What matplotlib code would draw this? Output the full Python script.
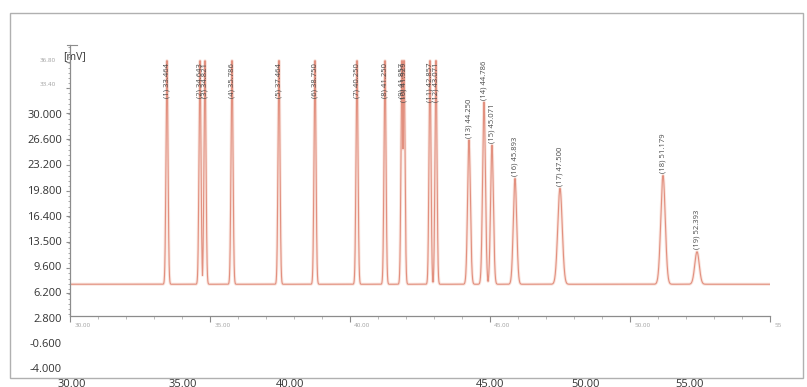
import numpy as np
import matplotlib.pyplot as plt
from matplotlib.ticker import FixedLocator, MultipleLocator, NullFormatter
from matplotlib.patches import Rectangle

plt.rcParams['font.family'] = ['Open Sans', 'DejaVu Sans']

# peak table: number, retention time [min], apex [mV], width (sigma) [min]
peak_no = [1, 2, 3, 4, 5, 6, 7, 8, 9, 10, 11, 12, 13, 14, 15, 16, 17, 18, 19]
peak_rt = [33.464, 34.643, 34.821, 35.786, 37.464, 38.750, 40.250, 41.250,
           41.857, 41.929, 42.857, 43.071, 44.250, 44.786, 45.071, 45.893,
           47.500, 51.179, 52.393]
peak_mv = [37.0, 37.0, 37.0, 37.0, 37.0, 37.0, 37.0, 37.0, 37.0, 37.0, 37.0,
           37.0, 26.5, 31.5, 25.8, 21.4, 20.1, 21.8, 11.7]
peak_sd = [0.035, 0.035, 0.035, 0.035, 0.035, 0.035, 0.035, 0.035, 0.035,
           0.035, 0.035, 0.035, 0.05, 0.05, 0.05, 0.06, 0.08, 0.08, 0.08]
baseline_mv = 7.4

# y scale labels of the viewer (value text) and run time labels below
y_labels = ["30.000", "26.600", "23.200", "19.800", "16.400", "13.500",
            "9.600", "6.200", "2.800", "-0.600", "-4.000"]
x_labels = ["30.00", "35.00", "40.00", "45.00", "50.00", "55.00"]
inner_x_labels = ["30.00", "35.00", "40.00", "45.00", "50.00", "55"]
inner_top_labels = ["36.80", "33.40"]

W, H = 807, 387
fig = plt.figure(figsize=(W / 100, H / 100), dpi=100)

# frame layer in pixel coordinates
fr = fig.add_axes([0, 0, 1, 1])
fr.set_xlim(0, W)
fr.set_ylim(H, 0)
fr.axis('off')
fr.add_patch(Rectangle((10, 13), 793, 365, fill=False, ec='#b0b0b0', lw=1))

for lab, yp in zip(y_labels, np.linspace(115, 370, len(y_labels))):
    fr.text(62, yp, lab, ha='right', va='center', fontsize=8, color='#333333')
for lab, xp in zip(x_labels, [72, 183, 290, 490, 586, 690]):
    fr.text(xp, 379, lab, ha='center', va='top', fontsize=8, color='#333333')
for lab, yp in zip(inner_top_labels, [60, 85]):
    fr.text(56, yp, lab, ha='right', va='center', fontsize=4.5, color='#a0a0a0')
fr.text(63, 57, "[mV]", ha='left', va='center', fontsize=7.5, color='#333333')

# chromatogram: each peak rises from the baseline, overlapping ones merge
ax = fig.add_axes([70 / W, (H - 316) / H, 700 / W, 271 / H])
t = np.linspace(30, 55, 8000)
shapes = [(mv - baseline_mv) * np.exp(-0.5 * ((t - rt) / sd) ** 2)
          for rt, mv, sd in zip(peak_rt, peak_mv, peak_sd)]
sig = baseline_mv + np.max(shapes, axis=0)

ax.plot(t, sig, color='#f6d3c8', lw=2.2, alpha=0.6, solid_capstyle='butt')
ax.plot(t, sig, color='#e2907f', lw=0.8)
ax.set_xlim(30, 55)
ax.set_ylim(3.2, 39.05)

top = ax.get_ylim()[1]
for n, rt, mv in zip(peak_no, peak_rt, peak_mv):
    lab = f"({n}) {rt:.3f}"
    if mv > top - 3:
        ax.text(rt, mv - 0.3, lab, rotation=90, ha='center', va='top',
                fontsize=5.5, color='#4a4a4a')
    else:
        ax.text(rt, mv + 0.3, lab, rotation=90, ha='center', va='bottom',
                fontsize=5.5, color='#4a4a4a')

for s in ['top', 'right']:
    ax.spines[s].set_visible(False)
for s in ['left', 'bottom']:
    ax.spines[s].set_color('#8c8c8c')
    ax.spines[s].set_linewidth(0.9)
ax.patch.set_alpha(0)

ax.yaxis.set_major_locator(FixedLocator(np.arange(6.2, 39, 3.4)))
ax.yaxis.set_minor_locator(MultipleLocator(0.68))
ax.yaxis.set_major_formatter(NullFormatter())
ax.tick_params(axis='y', which='major', length=3, color='#8c8c8c', width=0.8)
ax.tick_params(axis='y', which='minor', length=1.6, color='#9c9c9c', width=0.6)

ax.xaxis.set_major_locator(MultipleLocator(5))
ax.xaxis.set_minor_locator(MultipleLocator(1))
ax.set_xticklabels([])
ax.tick_params(axis='x', which='major', length=4, color='#8c8c8c', width=0.8)
ax.tick_params(axis='x', which='minor', length=2, color='#b0b0b0', width=0.6)
for lab, xv in zip(inner_x_labels, np.arange(30, 56, 5)):
    ax.text(xv + 0.15, 2.3, lab, ha='left', va='top', fontsize=4.5,
            color='#a0a0a0', clip_on=False)

# cap at the top of the value axis
ax.plot([29.9, 30.25], [top, top], color='#8c8c8c', lw=0.8, clip_on=False)

fig.savefig('out.png', dpi=100)
